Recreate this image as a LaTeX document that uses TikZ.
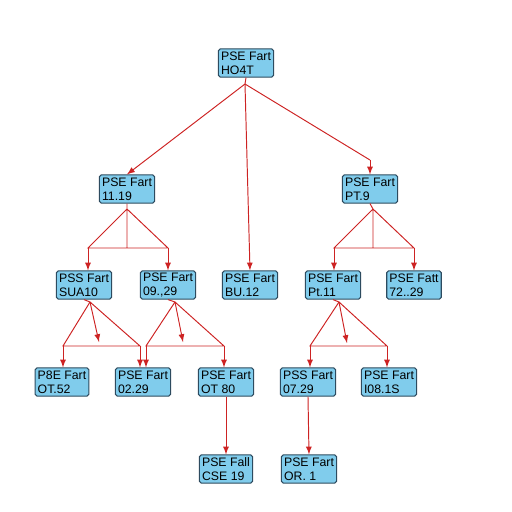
\documentclass[tikz,border=0pt]{standalone}
\usepackage{fontspec}
\setmainfont{Liberation Sans}
\usepackage{xcolor}
\usetikzlibrary{arrows,shapes,positioning,calc}

\definecolor{boxfill}{RGB}{128,204,236}
\definecolor{boxline}{RGB}{45,75,95}
\definecolor{linkred}{RGB}{205,35,35}

\begin{document}
\begin{tikzpicture}[x=0.02cm,y=-0.02cm,
  part/.style={draw=boxline,fill=boxfill,line width=0.6pt,rounded corners=1pt,
    align=left,minimum width=30pt,inner xsep=1.5pt,inner ysep=1pt,minimum height=16pt,
    font=\fontsize{7}{7.8}\selectfont},
  link/.style={draw=linkred,line width=0.55pt},
  arr/.style={link,-latex}]
\useasboundingbox (0,0) rectangle (512,512);

% Parts
\node[part] (root)  at (246,63)  {PSE Fart\\HO4T};
\node[part] (n1119) at (127,189) {PSE Fart\\11.19};
\node[part] (pt9)   at (370,189) {PSE Fart\\PT.9};
\node[part] (sua10) at (84,285)  {PSS Fart\\SUA10};
\node[part] (n0929) at (168,285) {PSE Fart\\09.,29};
\node[part] (bu12)  at (250,285) {PSE Fart\\BU.12};
\node[part] (pt11)  at (333,285) {PSE Fart\\Pt.11};
\node[part] (n7229) at (414,285) {PSE Fatt\\72..29};
\node[part] (n0152) at (62,382)  {P8E Fart\\OT.52};
\node[part] (n0229) at (143,382) {PSE Fart\\02.29};
\node[part] (n0180) at (226,382) {PSE Fart\\OT 80};
\node[part] (n0729) at (308,382) {PSS Fart\\07.29};
\node[part] (i081s) at (389,382) {PSE Fart\\I08.1S};
\node[part] (cse19) at (226,469) {PSE Fall\\CSE 19};
\node[part] (or1)   at (309,469) {PSE Fart\\OR. 1};

% Root links
\coordinate (a0) at (245,84);
\coordinate (k0) at (370,160);
\draw[link] (root.south) -- (a0);
\draw[arr] (a0) -- (n1119.north);
\draw[arr] (a0) -- (bu12.north);
\draw[link] (a0) -- (k0);
\draw[arr] (k0) -- (pt9.north);

% Fork under 11.19
\coordinate (a1) at (127,209);
\coordinate (l1) at (88,248);
\coordinate (r1) at (168,248);
\draw[link] (n1119.south) -- (a1) -- (l1) -- (r1) -- (a1) -- (a1 |- l1);
\draw[arr] (l1) -- (l1 |- sua10.north);
\draw[arr] (r1) -- (r1 |- n0929.north);

% Fork under PT.9
\coordinate (a2) at (373,209);
\coordinate (l2) at (334,248);
\coordinate (r2) at (414,248);
\draw[link] (pt9.south) -- (a2) -- (l2) -- (r2) -- (a2) -- (a2 |- l2);
\draw[arr] (l2) -- (l2 |- pt11.north);
\draw[arr] (r2) -- (r2 |- n7229.north);

% Fork under SUA10
\coordinate (a3) at (90,302);
\coordinate (l3) at (63,346);
\coordinate (r3) at (140,346);
\draw[link] (sua10.south) -- (a3) -- (l3) -- (r3) -- (a3);
\draw[arr] (a3) -- (99,342);
\draw[arr] (l3) -- (l3 |- n0152.north);
\draw[arr] (r3) -- (r3 |- n0229.north);

% Fork under 09.29
\coordinate (a4) at (175,302);
\coordinate (l4) at (146,346);
\coordinate (r4) at (224,346);
\draw[link] (n0929.south) -- (a4) -- (l4) -- (r4) -- (a4);
\draw[arr] (a4) -- (183,342);
\draw[arr] (l4) -- (l4 |- n0229.north);
\draw[arr] (r4) -- (r4 |- n0180.north);

% Fork under Pt.11
\coordinate (a5) at (339,302);
\coordinate (l5) at (310,346);
\coordinate (r5) at (387,346);
\draw[link] (pt11.south) -- (a5) -- (l5) -- (r5) -- (a5);
\draw[arr] (a5) -- (347,343);
\draw[arr] (l5) -- (l5 |- n0729.north);
\draw[arr] (r5) -- (r5 |- i081s.north);

% Last level
\draw[arr] (n0180.south) -- (cse19.north);
\draw[arr] (n0729.south) -- (or1.north);
\end{tikzpicture}
\end{document}
